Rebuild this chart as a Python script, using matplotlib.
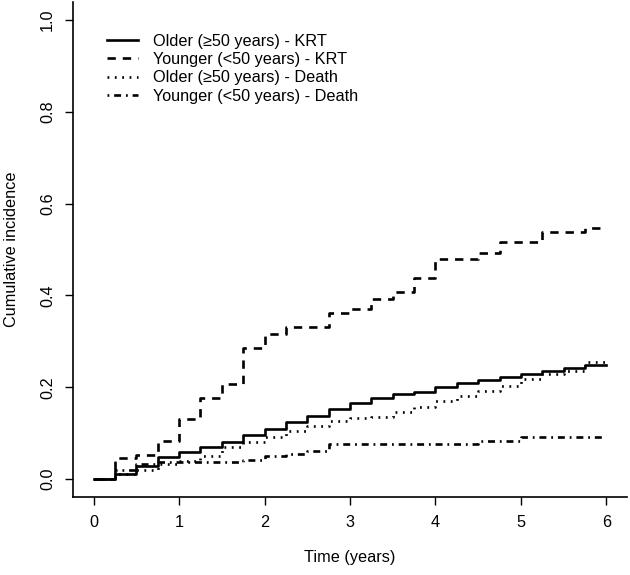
import numpy as np
import matplotlib
matplotlib.use('Agg')
import matplotlib.pyplot as plt

# Cumulative incidence step curves (times in years)
t_older_krt = [0, 0.25, 0.5, 0.75, 1.0, 1.25, 1.5, 1.75, 2.0, 2.25, 2.5, 2.75, 3.0,
               3.25, 3.5, 3.75, 4.0, 4.25, 4.5, 4.75, 5.0, 5.25, 5.5, 5.75, 6.0]
v_older_krt = [0, 0.012, 0.028, 0.048, 0.058, 0.070, 0.081, 0.095, 0.110, 0.124, 0.138,
               0.152, 0.166, 0.176, 0.185, 0.190, 0.200, 0.210, 0.216, 0.223, 0.229,
               0.235, 0.241, 0.248, 0.248]

t_young_krt = [0, 0.25, 0.5, 0.75, 1.0, 1.25, 1.5, 1.75, 2.0, 2.25, 2.75, 3.0, 3.25,
               3.5, 3.75, 4.0, 4.5, 4.75, 5.25, 5.75, 6.0]
v_young_krt = [0, 0.045, 0.053, 0.083, 0.130, 0.177, 0.207, 0.285, 0.315, 0.331, 0.361,
               0.370, 0.392, 0.408, 0.439, 0.479, 0.492, 0.516, 0.539, 0.546, 0.546]

t_older_death = [0, 0.25, 0.5, 0.75, 1.0, 1.25, 1.5, 1.75, 2.0, 2.25, 2.5, 2.75, 3.0,
                 3.25, 3.5, 3.75, 4.0, 4.25, 4.5, 4.75, 5.0, 5.25, 5.5, 5.75, 6.0]
v_older_death = [0, 0.012, 0.019, 0.032, 0.040, 0.050, 0.070, 0.081, 0.092, 0.105, 0.115,
                 0.126, 0.132, 0.136, 0.145, 0.158, 0.170, 0.181, 0.192, 0.203, 0.218,
                 0.229, 0.236, 0.256, 0.261]

t_young_death = [0, 0.25, 0.5, 0.75, 1.75, 2.0, 2.25, 2.5, 2.75, 4.5, 5.0, 6.0]
v_young_death = [0, 0.020, 0.033, 0.037, 0.042, 0.050, 0.054, 0.061, 0.076, 0.083,
                 0.092, 0.092]

labels = ['Older (\u226550 years) - KRT', 'Younger (<50 years) - KRT',
          'Older (\u226550 years) - Death', 'Younger (<50 years) - Death']

plt.rcParams['font.family'] = ['Liberation Sans', 'DejaVu Sans']
plt.rcParams['lines.scale_dashes'] = False

fig = plt.figure(figsize=(6.3, 5.75), dpi=100)
ax = fig.add_axes([73/630, (575-497.4)/575, (627-73)/630, (497.4-1.6)/575])

lw = 1.9
ax.plot(t_older_krt, v_older_krt, drawstyle='steps-post', color='black', lw=lw,
        linestyle='-', label=labels[0])
ax.plot(t_young_krt, v_young_krt, drawstyle='steps-post', color='black', lw=lw,
        linestyle=(0, (6, 5)), label=labels[1])
ax.plot(t_older_death, v_older_death, drawstyle='steps-post', color='black', lw=lw,
        linestyle=(0, (1.3, 4)), label=labels[2])
ax.plot(t_young_death, v_young_death, drawstyle='steps-post', color='black', lw=lw,
        linestyle=(0, (1.3, 3.5, 5, 3.5)), label=labels[3])

ax.set_xlim(-0.24, 6.24)
ax.set_ylim(-0.04, 1.04)
ax.set_xticks(range(0, 7))
ax.set_yticks([0.0, 0.2, 0.4, 0.6, 0.8, 1.0])
ax.set_yticklabels(['0.0', '0.2', '0.4', '0.6', '0.8', '1.0'], rotation=90, va='center')
ax.tick_params(labelsize=11.7, length=6, width=1, pad=7)
ax.spines['top'].set_visible(False)
ax.spines['right'].set_visible(False)
ax.spines['left'].set_linewidth(1.2)
ax.spines['bottom'].set_linewidth(1.2)

ax.set_xlabel('Time (years)', fontsize=11.7, labelpad=14)
ax.set_ylabel('Cumulative incidence', fontsize=11.7, labelpad=15)

ax.legend(loc='upper left', bbox_to_anchor=(0.061, 0.935), frameon=False, fontsize=11.7,
          handlelength=1.9, handletextpad=0.95, labelspacing=0.2, borderpad=0,
          borderaxespad=0)

plt.savefig('out.png', dpi=100)
